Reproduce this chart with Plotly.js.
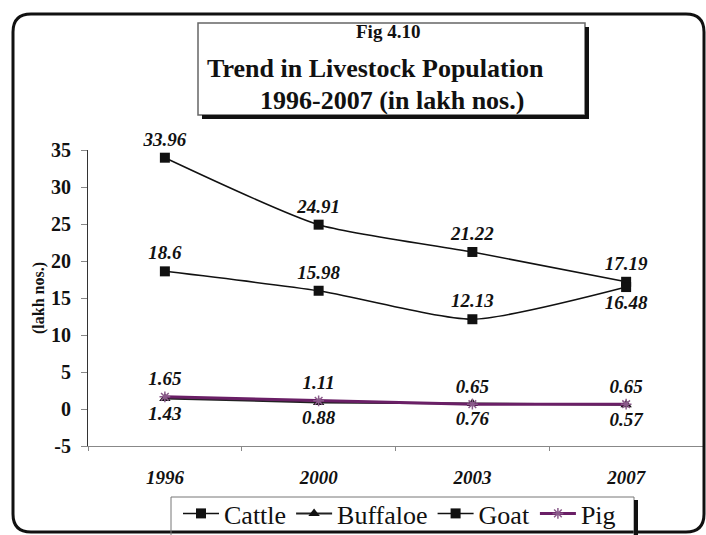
<!DOCTYPE html>
<html>
<head>
<meta charset="utf-8">
<script src="https://cdn.plot.ly/plotly-3.0.1.min.js"></script>
<style>
html,body{margin:0;padding:0;background:#fff;}
#chart{width:706px;height:535px;}
</style>
</head>
<body>
<div id="chart"></div>
<script>
var years = ['1996', '2000', '2003', '2007'];
var cattle = [33.96, 24.91, 21.22, 17.19];
var buffaloe = [1.43, 0.88, 0.76, 0.57];
var goat = [18.6, 15.98, 12.13, 16.48];
var pig = [1.65, 1.11, 0.65, 0.65];
var goatLabelPos = ['top center', 'top center', 'top center', 'bottom center'];
var yTickVals = [-5, 0, 5, 10, 15, 20, 25, 30, 35];
var yTickText = ['-5', '0', '5', '10', '15', '20', '25', '30', '35'];

// pixel -> paper helpers (plot area: x 88..703, y 150..446)
var L = 88, R = 703, T = 150, B = 446;
function px(x){ return (x - L) / (R - L); }
function py(y){ return (B - y) / (B - T); }

var serif = "'Liberation Serif', 'Times New Roman', serif";
var labFont = {family: serif, size: 19, color: '#111', weight: 'bold', style: 'italic'};

var traces = [
  {x: years, y: cattle, name: 'Cattle', mode: 'lines+markers+text', type: 'scatter', cliponaxis: false,
   line: {color: '#111', width: 1.5, shape: 'spline', smoothing: 0.6},
   marker: {symbol: 'square', size: 10, color: '#111'},
   text: cattle.map(String), textposition: 'top center', textfont: labFont},
  {x: years, y: buffaloe, name: 'Buffaloe', mode: 'lines+markers+text', type: 'scatter', cliponaxis: false,
   line: {color: '#222', width: 2},
   marker: {symbol: 'triangle-up', size: 10, color: '#111'},
   text: buffaloe.map(String), textposition: 'bottom center', textfont: labFont},
  {x: years, y: goat, name: 'Goat', mode: 'lines+markers+text', type: 'scatter', cliponaxis: false,
   line: {color: '#111', width: 1.5, shape: 'spline', smoothing: 0.6},
   marker: {symbol: 'square', size: 10, color: '#111'},
   text: goat.map(String), textposition: goatLabelPos, textfont: labFont},
  {x: years, y: pig, name: 'Pig', mode: 'lines+markers+text', type: 'scatter', cliponaxis: false,
   line: {color: '#6a1f66', width: 3},
   marker: {symbol: 'asterisk-open', size: 9, color: '#8a5a8a', line: {color: '#8a5a8a', width: 1.5}},
   text: pig.map(String), textposition: 'top center', textfont: labFont}
];

function pathRoundRect(x0, y0, x1, y1, r){
  return 'M' + px(x0+r) + ',' + py(y0) +
    ' L' + px(x1-r) + ',' + py(y0) +
    ' Q' + px(x1) + ',' + py(y0) + ' ' + px(x1) + ',' + py(y0+r) +
    ' L' + px(x1) + ',' + py(y1-r) +
    ' Q' + px(x1) + ',' + py(y1) + ' ' + px(x1-r) + ',' + py(y1) +
    ' L' + px(x0+r) + ',' + py(y1) +
    ' Q' + px(x0) + ',' + py(y1) + ' ' + px(x0) + ',' + py(y1-r) +
    ' L' + px(x0) + ',' + py(y0+r) +
    ' Q' + px(x0) + ',' + py(y0) + ' ' + px(x0+r) + ',' + py(y0) + ' Z';
}

var shapes = [
  {type: 'path', xref: 'paper', yref: 'paper', path: pathRoundRect(13, 14, 704, 532, 18),
   line: {color: '#111', width: 3}},
  {type: 'rect', xref: 'paper', yref: 'paper', x0: px(198), x1: px(585), y0: py(23), y1: py(115),
   line: {color: '#666', width: 1.5}, fillcolor: '#fff'},
  {type: 'rect', xref: 'paper', yref: 'paper', x0: px(585), x1: px(589), y0: py(27), y1: py(119),
   line: {width: 0}, fillcolor: '#111'},
  {type: 'rect', xref: 'paper', yref: 'paper', x0: px(202), x1: px(589), y0: py(115), y1: py(119),
   line: {width: 0}, fillcolor: '#111'},
  {type: 'rect', xref: 'paper', yref: 'paper', x0: px(171), x1: px(634), y0: py(497), y1: py(540),
   line: {color: '#777', width: 1}, fillcolor: 'rgba(0,0,0,0)'},
  {type: 'rect', xref: 'paper', yref: 'paper', x0: px(634), x1: px(638), y0: py(500), y1: py(540),
   line: {width: 0}, fillcolor: '#111'}
];

var annotations = [
  {text: 'Fig 4.10', xref: 'paper', yref: 'paper', x: px(388), y: py(32), xanchor: 'center', yanchor: 'middle',
   showarrow: false, font: {family: serif, size: 19, color: '#111', weight: 'bold'}},
  {text: 'Trend in Livestock Population', xref: 'paper', yref: 'paper', x: px(205), y: py(69), xanchor: 'left', yanchor: 'middle',
   showarrow: false, font: {family: serif, size: 26, color: '#111', weight: 'bold'}},
  {text: '1996-2007 (in lakh nos.)', xref: 'paper', yref: 'paper', x: px(258), y: py(100), xanchor: 'left', yanchor: 'middle',
   showarrow: false, font: {family: serif, size: 26, color: '#111', weight: 'bold'}}
];

var layout = {
  width: 706, height: 535,
  margin: {l: L, r: 706 - R, t: T, b: 535 - B, autoexpand: false},
  paper_bgcolor: '#fff', plot_bgcolor: '#fff',
  showlegend: true,
  legend: {orientation: 'h', x: px(178), xanchor: 'left', y: py(490), yanchor: 'top',
           bgcolor: 'rgba(0,0,0,0)', borderwidth: 0, tracegroupgap: 0, itemwidth: 36,
           font: {family: serif, size: 26, color: '#111'}},
  xaxis: {type: 'category', showgrid: false, zeroline: false, showline: true, linecolor: '#888', linewidth: 1,
          automargin: false,
          ticks: 'outside', tickson: 'boundaries', ticklen: 4, tickcolor: '#888',
          tickfont: {family: serif, size: 19, color: '#111', weight: 'bold', style: 'italic'},
          ticklabelstandoff: 14, range: [-0.5, 3.5], fixedrange: true},
  yaxis: {range: [-5, 35], tickmode: 'array', tickvals: yTickVals, ticktext: yTickText,
          automargin: false,
          showgrid: false, zeroline: false, showline: true, linecolor: '#333', linewidth: 1,
          ticks: 'outside', ticklen: 6, tickcolor: '#888', ticklabelstandoff: 6,
          tickfont: {family: serif, size: 20, color: '#111', weight: 'bold'},
          title: {text: '(lakh nos.)', standoff: 2, font: {family: serif, size: 16, color: '#111', weight: 'bold'}}},
  shapes: shapes,
  annotations: annotations
};

Plotly.newPlot('chart', traces, layout, {displayModeBar: false, staticPlot: true});
</script>
</body>
</html>
